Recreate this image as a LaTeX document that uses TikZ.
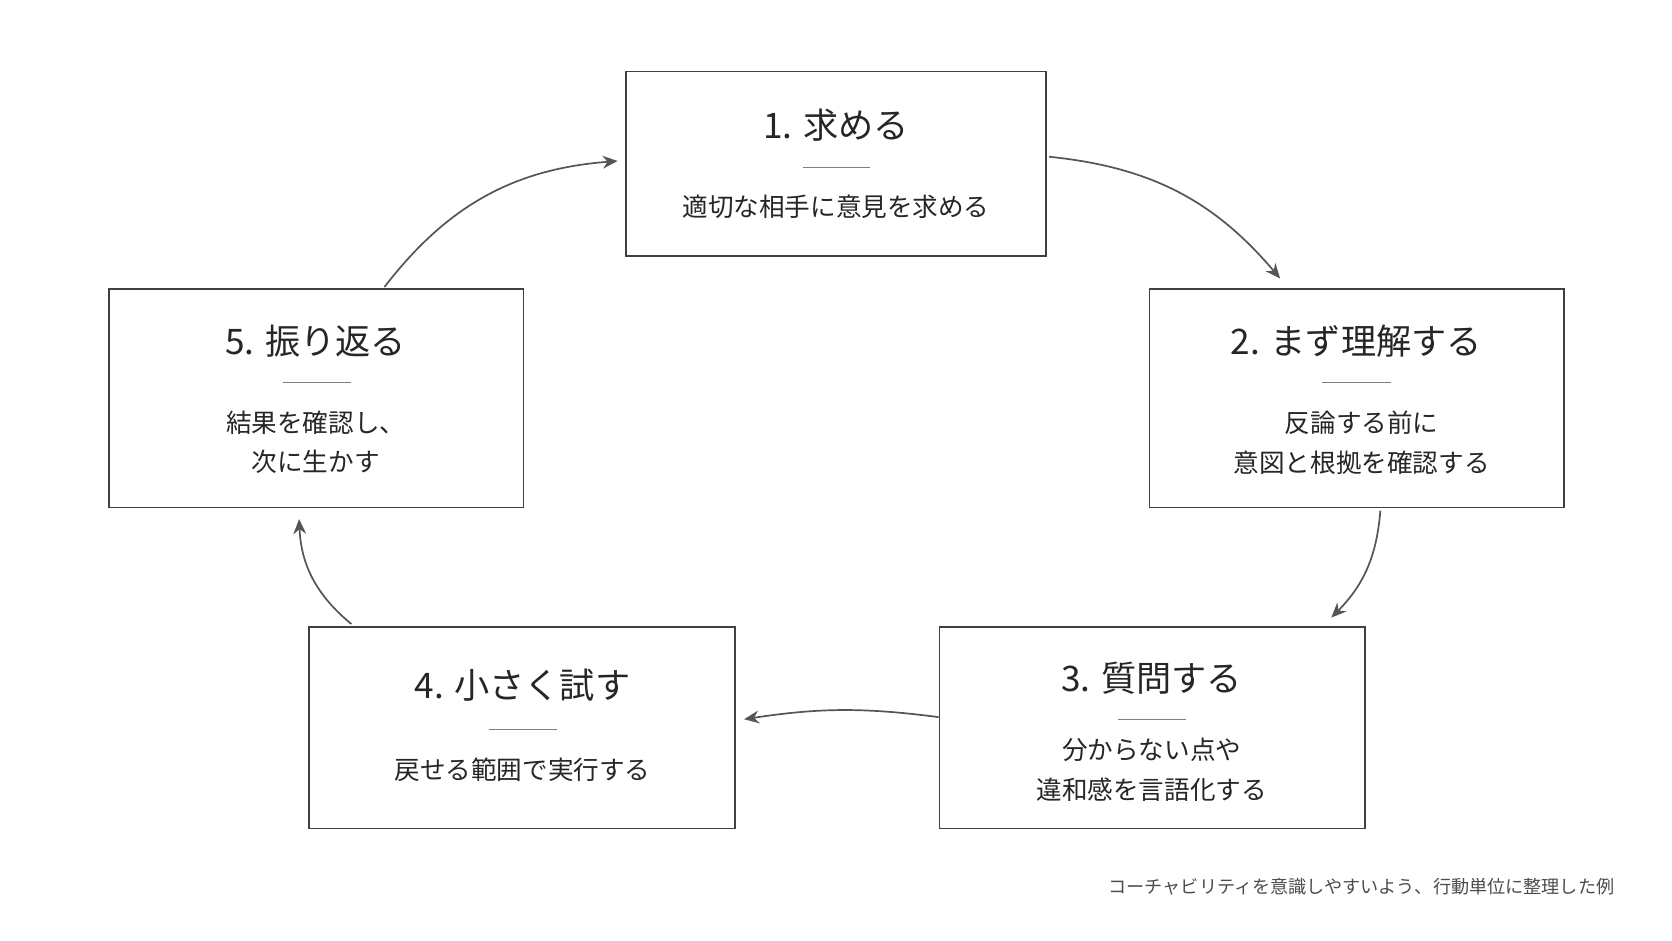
\documentclass[tikz,border=0pt]{standalone}
\usepackage{fontspec}
\setmainfont{Noto Sans CJK JP}
\usetikzlibrary{arrows.meta}
\definecolor{linegray}{HTML}{555555}
\tikzset{
  stepbox/.style={draw=black!75, line width=0.8pt, fill=white, inner sep=0pt},
  flow/.style={-{Stealth[length=7pt,width=6pt]}, draw=linegray, line width=0.8pt},
  ttl/.style={font=\fontsize{16.5}{18}\selectfont, text=black!85},
  txt/.style={font=\fontsize{12}{18.5}\selectfont, text=black!85, align=center},
  sep/.style={draw=black!50, line width=0.5pt}
}
\begin{document}
\begin{tikzpicture}[x=0.5pt, y=-0.5pt]
\useasboundingbox (0,0) rectangle (1568,882);

% boxes
\node[stepbox, minimum width=197pt, minimum height=86.5pt] (b1) at (784,153.5) {};
\node[stepbox, minimum width=194.5pt, minimum height=102.5pt] (b2) at (1272.5,373.5) {};
\node[stepbox, minimum width=199.5pt, minimum height=94.5pt] (b3) at (1080.5,682.5) {};
\node[stepbox, minimum width=199.5pt, minimum height=94.5pt] (b4) at (489.5,682.5) {};
\node[stepbox, minimum width=194.5pt, minimum height=102.5pt] (b5) at (296.5,373.5) {};

% texts
\node[ttl] (t1) at (784,117) {1. 求める};
\draw[sep] (753,157) -- (816,157);
\node[txt] (s1) at (784,194) {適切な相手に意見を求める};

\node[ttl] (t2) at (1272,320) {2. まず理解する};
\draw[sep] (1240,359) -- (1304,359);
\node[txt] (s2) at (1277,415) {反論する前に\\意図と根拠を確認する};

\node[ttl] (t3) at (1080,636) {3. 質問する};
\draw[sep] (1048,675) -- (1112,675);
\node[txt] (s3) at (1080,722) {分からない点や\\違和感を言語化する};

\node[ttl] (t4) at (490,643) {4. 小さく試す};
\draw[sep] (459,684) -- (522,684);
\node[txt] (s4) at (490,722) {戻せる範囲で実行する};

\node[ttl] (t5) at (296,320) {5. 振り返る};
\draw[sep] (265,359) -- (329,359);
\node[txt] (s5) at (296,415) {結果を確認し、\\次に生かす};

% arrows
\draw[flow] ([xshift=1pt,yshift=3.25pt]b1.east) to[bend left=22] ([xshift=-36pt,yshift=4.5pt]b2.north);
\draw[flow] ([xshift=11pt,yshift=-1pt]b2.south) to[bend left=20] ([xshift=84pt,yshift=4pt]b3.north);
\draw[flow] ([yshift=5pt]b3.west) to[bend right=8] ([xshift=4pt,yshift=4pt]b4.east);
\draw[flow] ([xshift=-80pt,yshift=1pt]b4.north) to[bend left=24] ([xshift=-8pt,yshift=-5pt]b5.south);
\draw[flow] ([xshift=32pt,yshift=0.5pt]b5.north) to[bend left=24] ([xshift=-3.5pt,yshift=1.25pt]b1.west);

\node[anchor=east, font=\fontsize{8.5}{10}\selectfont, text=black!70] (note) at (1521,832) {コーチャビリティを意識しやすいよう、行動単位に整理した例};
\end{tikzpicture}
\end{document}
